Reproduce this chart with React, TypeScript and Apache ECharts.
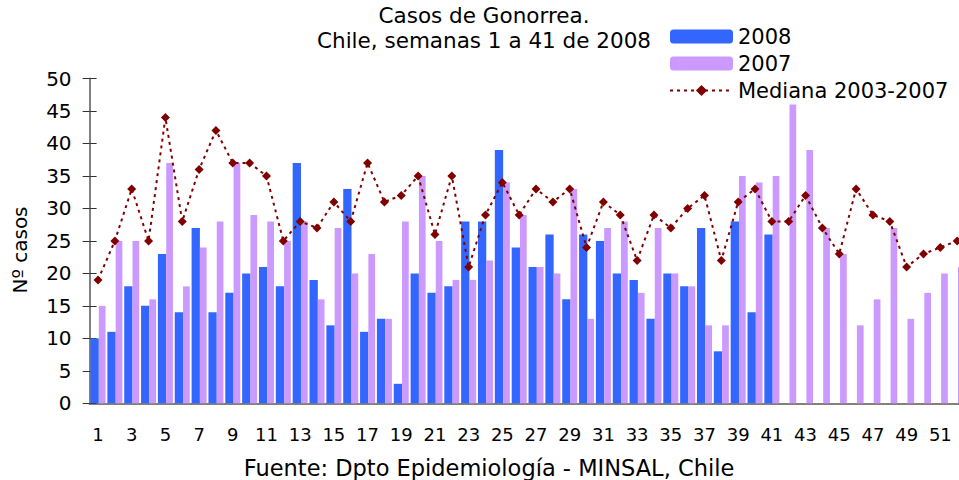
import React, { useEffect, useRef } from "react";
import * as echarts from "echarts";

const weeks: string[] = Array.from({ length: 52 }, (_, i) => String(i + 1));

const cases2008: number[] = [
  10, 11, 18, 15, 23, 14, 27, 14, 17, 20, 21, 18, 37, 19, 12, 33, 11, 13, 3, 20,
  17, 18, 28, 28, 39, 24, 21, 26, 16, 26, 25, 20, 19, 13, 20, 18, 27, 8, 28, 14,
  26,
];

const cases2007: number[] = [
  15, 25, 25, 16, 37, 18, 24, 28, 37, 29, 28, 25, 28, 16, 27, 20, 23, 13, 28, 35,
  25, 19, 19, 22, 34, 29, 21, 20, 33, 13, 27, 28, 17, 27, 20, 18, 12, 12, 35, 34,
  35, 46, 39, 27, 23, 12, 16, 27, 13, 17, 20, 21,
];

const median0307: number[] = [
  19, 25, 33, 25, 44, 28, 36, 42, 37, 37, 35, 25, 28, 27, 31, 28, 37, 31, 32, 35,
  26, 35, 21, 29, 34, 29, 33, 31, 33, 24, 31, 29, 22, 29, 27, 30, 32, 22, 31, 33,
  28, 28, 32, 27, 23, 33, 29, 28, 21, 23, 24, 25,
];

const FONT = "'DejaVu Sans', Verdana, sans-serif";

export default function App() {
  const ref = useRef<HTMLDivElement>(null);
  useEffect(() => {
    document.body.style.margin = "0";
    if (!ref.current) return;
    const chart = echarts.init(ref.current, undefined, { renderer: "svg" });
    chart.setOption({
      animation: false,
      backgroundColor: "#ffffff",
      textStyle: { fontFamily: FONT },
      title: {
        text: "Casos de Gonorrea.\nChile, semanas 1 a 41 de 2008",
        left: 484,
        top: 3,
        padding: 0,
        textAlign: "center",
        textStyle: {
          fontFamily: FONT,
          fontSize: 21.5,
          fontWeight: "normal",
          color: "#000",
          lineHeight: 25,
        },
      },
      legend: {
        orient: "vertical",
        left: 669,
        top: 26,
        padding: 0,
        itemWidth: 63,
        itemHeight: 14,
        itemGap: 6,
        textStyle: { fontFamily: FONT, fontSize: 21, color: "#000" },
        data: ["2008", "2007", "Mediana 2003-2007"],
      },
      grid: {
        left: 89.6,
        width: 876,
        top: 78.5,
        bottom: 76.7,
        containLabel: false,
        outerBoundsMode: "none",
      },
      xAxis: [
        {
          type: "category",
          data: weeks,
          boundaryGap: true,
          axisLine: { lineStyle: { color: "#808080", width: 2 } },
          axisTick: { alignWithLabel: false, interval: 0, length: 7, lineStyle: { color: "#333", width: 1 } },
          axisLabel: { interval: 1, margin: 22, fontFamily: FONT, fontSize: 18, color: "#000" },
          splitLine: { show: false },
        },
        {
          type: "category",
          data: weeks,
          position: "bottom",
          boundaryGap: true,
          axisLine: { show: false },
          axisTick: { inside: true, interval: 0, length: 7, lineStyle: { color: "#333", width: 1 } },
          axisLabel: { show: false },
          splitLine: { show: false },
        },
      ],
      yAxis: [
        {
          type: "value",
          min: 0,
          max: 50,
          interval: 5,
          axisLine: { show: true, lineStyle: { color: "#808080", width: 2 } },
          axisTick: { show: true, length: 7, lineStyle: { color: "#333", width: 1 } },
          axisLabel: { margin: 18, fontFamily: FONT, fontSize: 20, color: "#000" },
          splitLine: { show: false },
        },
        {
          type: "value",
          min: 0,
          max: 50,
          interval: 5,
          position: "left",
          axisLine: { show: false },
          axisTick: { show: true, inside: true, length: 7, lineStyle: { color: "#333", width: 1 } },
          axisLabel: { show: false },
          splitLine: { show: false },
        },
      ],
      graphic: [
        {
          type: "text",
          x: 20,
          y: 250,
          rotation: Math.PI / 2,
          style: {
            text: "Nº casos",
            font: `20px ${FONT}`,
            fill: "#000",
            textAlign: "center",
            textVerticalAlign: "middle",
          },
        },
        {
          type: "text",
          x: 489,
          y: 468,
          style: {
            text: "Fuente: Dpto Epidemiología - MINSAL, Chile",
            font: `22.5px ${FONT}`,
            fill: "#000",
            textAlign: "center",
            textVerticalAlign: "middle",
          },
        },
      ],
      series: [
        {
          name: "2008",
          type: "bar",
          data: cases2008,
          barWidth: 8.3,
          barGap: "0%",
          itemStyle: { color: "#3366FF" },
        },
        {
          name: "2007",
          type: "bar",
          data: cases2007,
          barWidth: 6.7,
          barGap: "0%",
          itemStyle: { color: "#CC99FF" },
        },
        {
          name: "Mediana 2003-2007",
          type: "line",
          data: median0307,
          symbol: "diamond",
          symbolSize: 9,
          z: 5,
          itemStyle: { color: "#800000" },
          lineStyle: { color: "#800000", width: 2, type: [3, 4] },
        },
      ],
    });
    return () => chart.dispose();
  }, []);
  return <div ref={ref} style={{ width: 959, height: 480 }} />;
}
